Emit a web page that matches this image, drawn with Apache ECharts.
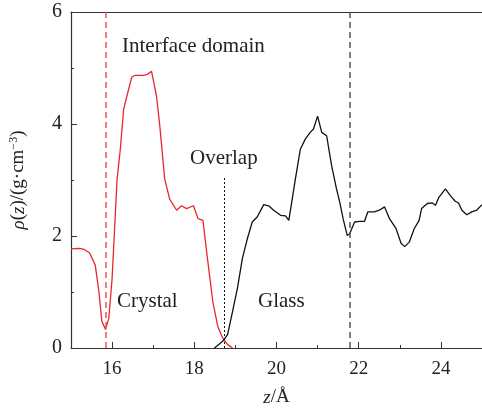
<!DOCTYPE html>
<html>
<head>
<meta charset="utf-8">
<script src="https://cdn.jsdelivr.net/npm/echarts@6/dist/echarts.min.js"></script>
<style>html,body{margin:0;padding:0;background:#fff}#c{width:482px;height:412px}</style>
</head>
<body>
<div id="c"></div>
<script>
// Crystal-side density profile (red)
const crystalZ = [15.0, 15.2, 15.32, 15.45, 15.59, 15.68, 15.75, 15.84, 15.92, 16.0, 16.12, 16.2, 16.28, 16.36, 16.48, 16.56, 16.76, 16.84, 16.96, 17.08, 17.16, 17.28, 17.4, 17.57, 17.69, 17.81, 17.98, 18.09, 18.21, 18.33, 18.45, 18.57, 18.69, 18.81, 18.93];
const crystalRho = [1.77, 1.78, 1.76, 1.7, 1.48, 1.0, 0.48, 0.33, 0.53, 1.24, 3.0, 3.55, 4.26, 4.5, 4.84, 4.87, 4.87, 4.88, 4.94, 4.5, 3.97, 3.02, 2.66, 2.46, 2.54, 2.49, 2.54, 2.31, 2.28, 1.54, 0.83, 0.39, 0.18, 0.06, 0.0];
// Glass-side density profile (black)
const glassZ = [18.49, 18.69, 18.81, 18.93, 19.05, 19.17, 19.29, 19.41, 19.53, 19.69, 19.81, 19.93, 20.1, 20.22, 20.3, 20.46, 20.58, 20.7, 20.82, 20.9, 21.0, 21.1, 21.22, 21.34, 21.46, 21.54, 21.62, 21.72, 21.78, 21.9, 22.02, 22.14, 22.22, 22.38, 22.5, 22.63, 22.75, 22.91, 23.03, 23.12, 23.23, 23.35, 23.47, 23.53, 23.67, 23.79, 23.87, 23.95, 24.11, 24.23, 24.35, 24.43, 24.51, 24.63, 24.75, 24.87, 25.0];
const glassRho = [0.0, 0.12, 0.24, 0.65, 1.07, 1.6, 1.95, 2.25, 2.34, 2.56, 2.54, 2.46, 2.37, 2.36, 2.28, 3.02, 3.55, 3.73, 3.85, 3.91, 4.14, 3.85, 3.79, 3.26, 2.84, 2.6, 2.31, 2.01, 2.04, 2.25, 2.26, 2.26, 2.43, 2.43, 2.46, 2.52, 2.31, 2.13, 1.87, 1.81, 1.89, 2.13, 2.28, 2.49, 2.58, 2.59, 2.55, 2.69, 2.84, 2.72, 2.62, 2.59, 2.46, 2.38, 2.43, 2.46, 2.56];
// Boundary markers
const crystalBoundary = 15.84;
const glassBoundary = 21.78;
const overlapZ = 18.73;
const overlapTop = 3.05;
// Axis ticks
const xMajorTicks = [16, 18, 20, 22, 24];
const xMinorTicks = [15, 17, 19, 21, 23, 25];

const FONT = '"Liberation Serif", "Times New Roman", serif';
const AX = '#333';

const pair = (xs, ys) => xs.map((x, i) => [x, ys[i]]);

const chart = echarts.init(document.getElementById('c'), null, {renderer: 'canvas'});
chart.setOption({
  animation: false,
  backgroundColor: '#fff',
  grid: {left: 68, top: 12, width: 415, bottom: 62, containLabel: false},
  xAxis: [
    {
      type: 'value', min: 15, max: 25, position: 'bottom',
      axisLine: {show: true, lineStyle: {color: AX, width: 1.2}},
      axisTick: {show: true, inside: true, length: 6, customValues: xMajorTicks, lineStyle: {color: AX}},
      axisLabel: {customValues: xMajorTicks, color: '#222', fontFamily: FONT, fontSize: 19, margin: 12},
      splitLine: {show: false},
      name: '{i|z}/Å', nameLocation: 'middle', nameGap: 40,
      nameTextStyle: {color: '#222', fontFamily: FONT, fontSize: 19,
        rich: {i: {fontStyle: 'italic', fontFamily: FONT, fontSize: 19, color: '#222'}}}
    },
    {
      type: 'value', min: 15, max: 25, position: 'bottom',
      axisLine: {show: false},
      axisTick: {show: true, inside: true, length: 3, customValues: xMinorTicks, lineStyle: {color: AX}},
      axisLabel: {show: false},
      splitLine: {show: false}
    },
    {
      type: 'value', min: 15, max: 25, position: 'top',
      axisLine: {show: true, lineStyle: {color: AX, width: 1.2}},
      axisTick: {show: false}, axisLabel: {show: false}, splitLine: {show: false}
    }
  ],
  yAxis: {
    type: 'value', min: 0, max: 6, interval: 2,
    axisLine: {show: true, lineStyle: {color: AX, width: 1.2}},
    axisTick: {show: true, inside: true, length: 6, lineStyle: {color: AX}},
    minorTick: {show: true, splitNumber: 2, length: 3, lineStyle: {color: AX}},
    axisLabel: {color: '#222', fontFamily: FONT, fontSize: 20, margin: 9},
    splitLine: {show: false},
    name: '{i|ρ}({i|z})/(g·cm{s|−3})', nameLocation: 'middle', nameGap: 42, nameRotate: 90,
    nameTextStyle: {color: '#222', fontFamily: FONT, fontSize: 19,
      rich: {
        i: {fontStyle: 'italic', fontFamily: FONT, fontSize: 19, color: '#222'},
        s: {fontFamily: FONT, fontSize: 12, color: '#222', verticalAlign: 'bottom', padding: [0, 0, 9, 0]}
      }}
  },
  series: [
    {
      type: 'line', name: 'crystal', data: pair(crystalZ, crystalRho), showSymbol: false,
      lineStyle: {color: '#e8262b', width: 1.3}, z: 3,
      markLine: {
        silent: true, symbol: 'none', label: {show: false},
        lineStyle: {color: '#e85555', type: [6, 4], width: 1.5},
        data: [{xAxis: crystalBoundary}]
      }
    },
    {
      type: 'line', name: 'glass', data: pair(glassZ, glassRho), showSymbol: false,
      lineStyle: {color: '#111', width: 1.3}, z: 3,
      markLine: {
        silent: true, symbol: 'none', label: {show: false},
        data: [
          {xAxis: glassBoundary, lineStyle: {color: '#555', type: [6, 4], width: 1.5}},
          [{coord: [overlapZ, 0], lineStyle: {color: '#111', type: [2, 2], width: 1}}, {coord: [overlapZ, overlapTop]}]
        ]
      }
    }
  ],
  graphic: [
    {type: 'text', left: 122, top: 36, style: {text: 'Interface domain', font: '21px ' + FONT, fill: '#222'}},
    {type: 'text', left: 190, top: 148, style: {text: 'Overlap', font: '21px ' + FONT, fill: '#222'}},
    {type: 'text', left: 117, top: 291, style: {text: 'Crystal', font: '21px ' + FONT, fill: '#222'}},
    {type: 'text', left: 258, top: 291, style: {text: 'Glass', font: '21px ' + FONT, fill: '#222'}}
  ]
});
</script>
</body>
</html>
